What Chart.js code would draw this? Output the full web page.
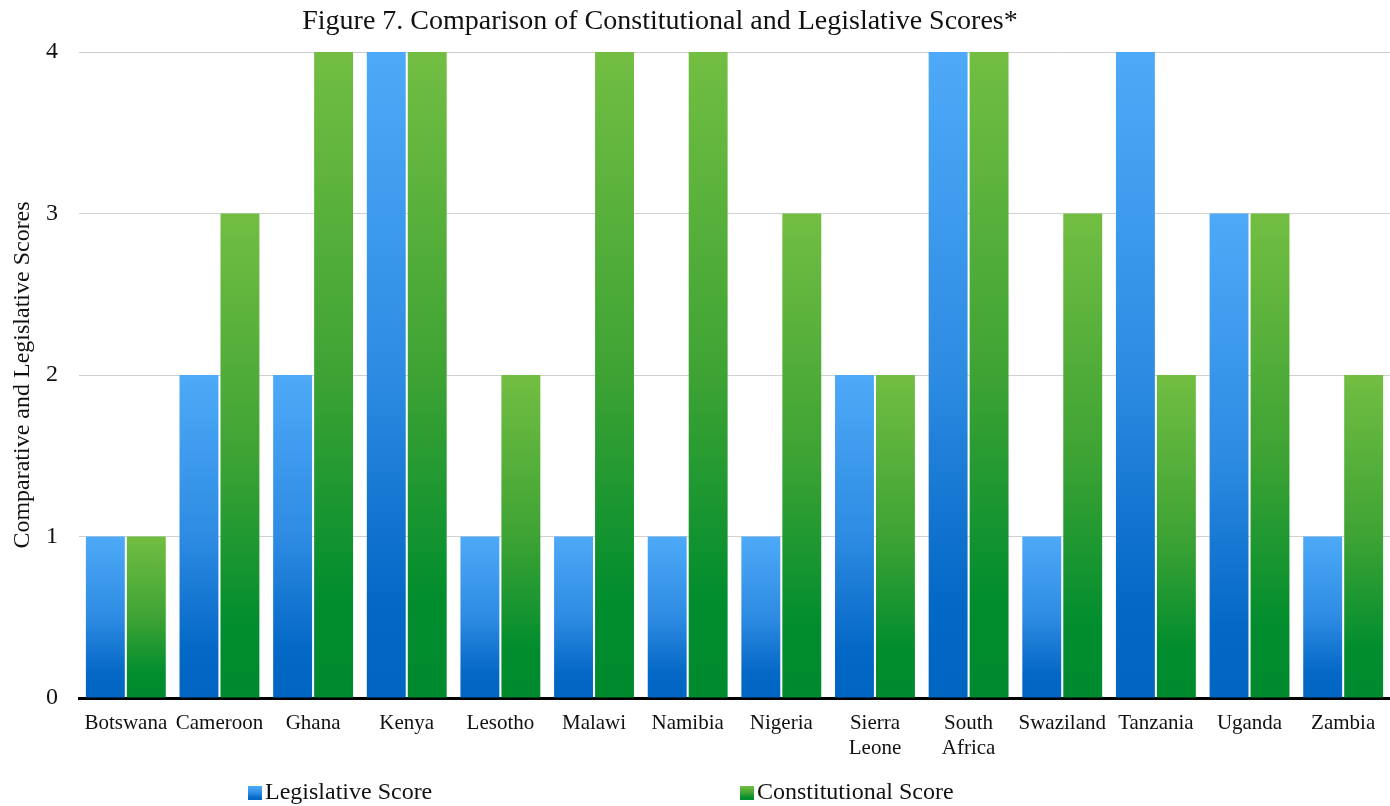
<!DOCTYPE html>
<html>
<head>
<meta charset="utf-8">
<script src="https://cdn.jsdelivr.net/npm/chart.js@4.4.1/dist/chart.umd.min.js"></script>
<style>
  html, body { margin: 0; padding: 0; background: #ffffff; }
  #wrap { width: 1390px; height: 806px; position: relative; }
</style>
</head>
<body>
<div id="wrap"><canvas id="chart" width="1390" height="806"></canvas></div>
<script>
const countries = ['Botswana', 'Cameroon', 'Ghana', 'Kenya', 'Lesotho', 'Malawi', 'Namibia',
  'Nigeria', ['Sierra', 'Leone'], ['South', 'Africa'], 'Swaziland', 'Tanzania', 'Uganda', 'Zambia'];
const legislativeScores = [1, 2, 2, 4, 1, 1, 1, 1, 2, 4, 1, 4, 3, 1];
const constitutionalScores = [1, 3, 4, 4, 2, 4, 4, 3, 2, 4, 3, 2, 3, 2];
const yTicks = [0, 1, 2, 3, 4];
const titleText = 'Figure 7. Comparison of Constitutional and Legislative Scores*';

const SERIF = '"Liberation Serif", "Times New Roman", serif';
const blueStops = ['#4eaaf8', '#2d8be2', '#0468c6', '#0066c2'];
const greenStops = ['#72be42', '#3ea334', '#018d2e', '#008a2e'];

function makeGradient(ctx, top, bottom, stops) {
  const g = ctx.createLinearGradient(0, top, 0, bottom);
  g.addColorStop(0, stops[0]);
  g.addColorStop(0.5, stops[1]);
  g.addColorStop(0.85, stops[2]);
  g.addColorStop(1, stops[3]);
  return g;
}

function barFill(stops) {
  return function (context) {
    const chart = context.chart;
    const y = chart.scales && chart.scales.y;
    if (!chart.chartArea || !y || context.type !== 'data') return stops[1];
    const v = context.raw;
    const top = y.getPixelForValue(v);
    const bottom = y.getPixelForValue(0);
    if (!isFinite(top) || !isFinite(bottom) || bottom - top < 1) return stops[1];
    return makeGradient(chart.ctx, top, bottom, stops);
  };
}

// Title and legend drawn on the canvas after the chart itself
const decorations = {
  id: 'decorations',
  afterDraw(chart) {
    const ctx = chart.ctx;
    ctx.save();
    ctx.fillStyle = '#111111';
    ctx.textBaseline = 'middle';
    ctx.font = '28px ' + SERIF;
    ctx.textAlign = 'center';
    ctx.fillText(titleText, 660, 22);

    const items = [
      { x: 248, label: chart.data.datasets[0].label, stops: blueStops },
      { x: 740, label: chart.data.datasets[1].label, stops: greenStops }
    ];
    ctx.font = '24px ' + SERIF;
    ctx.textAlign = 'left';
    items.forEach(it => {
      const by = 786, size = 14;
      ctx.fillStyle = makeGradient(ctx, by, by + size, it.stops);
      ctx.fillRect(it.x, by, size, size);
      ctx.fillStyle = '#111111';
      ctx.fillText(it.label, it.x + 17, 793);
    });
    ctx.restore();
  }
};

new Chart(document.getElementById('chart'), {
  type: 'bar',
  data: {
    labels: countries,
    datasets: [
      {
        label: 'Legislative Score',
        data: legislativeScores,
        backgroundColor: barFill(blueStops),
        barPercentage: 0.95,
        categoryPercentage: 0.875
      },
      {
        label: 'Constitutional Score',
        data: constitutionalScores,
        backgroundColor: barFill(greenStops),
        barPercentage: 0.95,
        categoryPercentage: 0.875
      }
    ]
  },
  options: {
    responsive: false,
    animation: false,
    devicePixelRatio: 1,
    layout: { padding: { top: 52, right: 0, bottom: 38, left: 4 } },
    plugins: {
      legend: { display: false },
      title: { display: false },
      tooltip: { enabled: false }
    },
    scales: {
      x: {
        grid: { display: false, drawTicks: false },
        border: { display: true, color: '#000000', width: 3 },
        afterFit(axis) { axis.height = 70; },
        ticks: {
          color: '#111111',
          font: { family: SERIF, size: 21 },
          padding: 13,
          maxRotation: 0,
          autoSkip: false
        }
      },
      y: {
        min: 0,
        max: 4,
        afterBuildTicks(axis) { axis.ticks = yTicks.map(v => ({ value: v })); },
        afterFit(axis) { axis.width = 75; },
        grid: { color: '#d0d0d0', lineWidth: 1, drawTicks: false },
        border: { display: false },
        ticks: {
          color: '#111111',
          font: { family: SERIF, size: 24 },
          padding: 21
        },
        title: {
          display: true,
          text: 'Comparative and Legislative Scores',
          color: '#111111',
          font: { family: SERIF, size: 24 },
          padding: { top: 4, bottom: 0 }
        }
      }
    }
  },
  plugins: [decorations]
});
</script>
</body>
</html>
